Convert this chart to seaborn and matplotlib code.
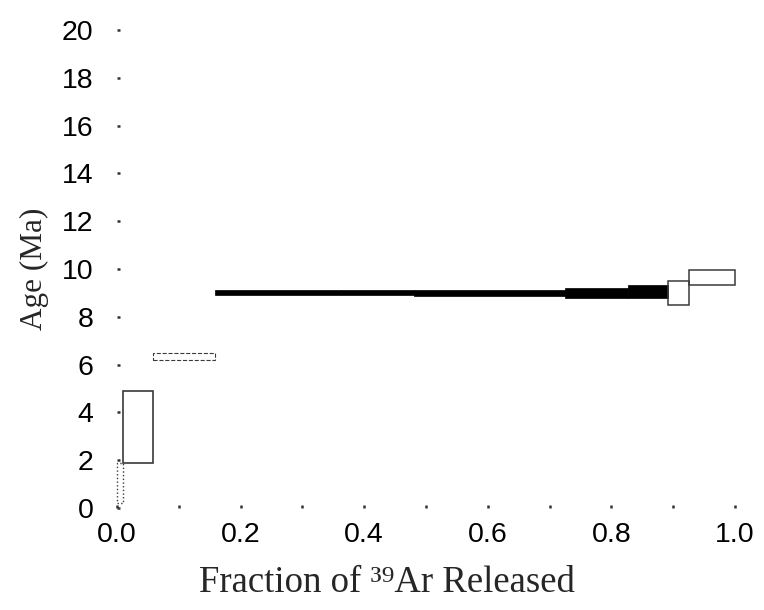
import matplotlib
matplotlib.use("Agg")
import matplotlib.pyplot as plt
import seaborn as sns

# Age spectrum steps (fraction of 39Ar released, apparent age in Ma)
step_start = [0.000, 0.010, 0.058, 0.159, 0.363, 0.480, 0.725, 0.827, 0.892, 0.926]
step_end   = [0.010, 0.058, 0.159, 0.363, 0.480, 0.725, 0.827, 0.892, 0.926, 1.000]
age_low    = [0.20, 1.90, 6.20, 8.93, 8.90, 8.88, 8.80, 8.78, 8.50, 9.35]
age_high   = [1.90, 4.90, 6.50, 9.14, 9.14, 9.12, 9.22, 9.35, 9.50, 9.95]
plateau    = [False, False, False, True, True, True, True, True, False, False]

x_ticks = [0.0, 0.2, 0.4, 0.6, 0.8, 1.0]
x_tick_labels = ["0.0", "0.2", "0.4", "0.6", "0.8", "1.0"]
y_ticks = list(range(0, 21, 2))

sns.set_style("white")
plt.rcParams["font.family"] = ["Liberation Sans", "DejaVu Sans"]

fig = plt.figure(figsize=(7.64, 6.10), dpi=100)
ax = fig.add_axes([0.153, 0.167, 0.809, 0.784])

widths = [e - s for s, e in zip(step_start, step_end)]
heights = [h - l for l, h in zip(age_low, age_high)]
faces = ["black" if p else "none" for p in plateau]
edges = ["black" if p else "#3a3a3a" for p in plateau]
styles = [":", "-", "--", "-", "-", "-", "-", "-", "-", "-"]
lws = [1.0, 1.2, 0.8, 0.5, 0.5, 0.5, 0.5, 0.5, 1.1, 1.1]

bars = ax.bar(step_start, heights, width=widths, bottom=age_low, align="edge",
              color=faces, edgecolor=edges, linewidth=lws, clip_on=False)
for b, ls in zip(bars, styles):
    b.set_linestyle(ls)

ax.set_xlim(0, 1)
ax.set_ylim(0, 20)
ax.set_xticks(x_ticks)
ax.set_xticklabels(x_tick_labels)
ax.set_xticks([i / 10 for i in range(11)], minor=True)
ax.set_yticks(y_ticks)
sns.despine(ax=ax, left=True, bottom=True, top=True, right=True)

ax.tick_params(axis="both", which="both", direction="in", length=2.5, width=1.8,
               color="#333333", labelsize=20.5, labelcolor="black",
               bottom=True, left=True)
ax.tick_params(axis="y", pad=17)
ax.tick_params(axis="x", which="major", pad=10)
ax.grid(False)

ax.set_ylabel("Age (Ma)", family=["Liberation Serif", "DejaVu Serif"],
              fontsize=22.5, labelpad=9)
ax.set_xlabel("Fraction of \u00b3\u2079Ar Released",
              family=["Liberation Serif", "DejaVu Serif"], fontsize=26.5, labelpad=13)
ax.xaxis.set_label_coords(0.437, -0.12)

fig.savefig("out.png", dpi=100)
